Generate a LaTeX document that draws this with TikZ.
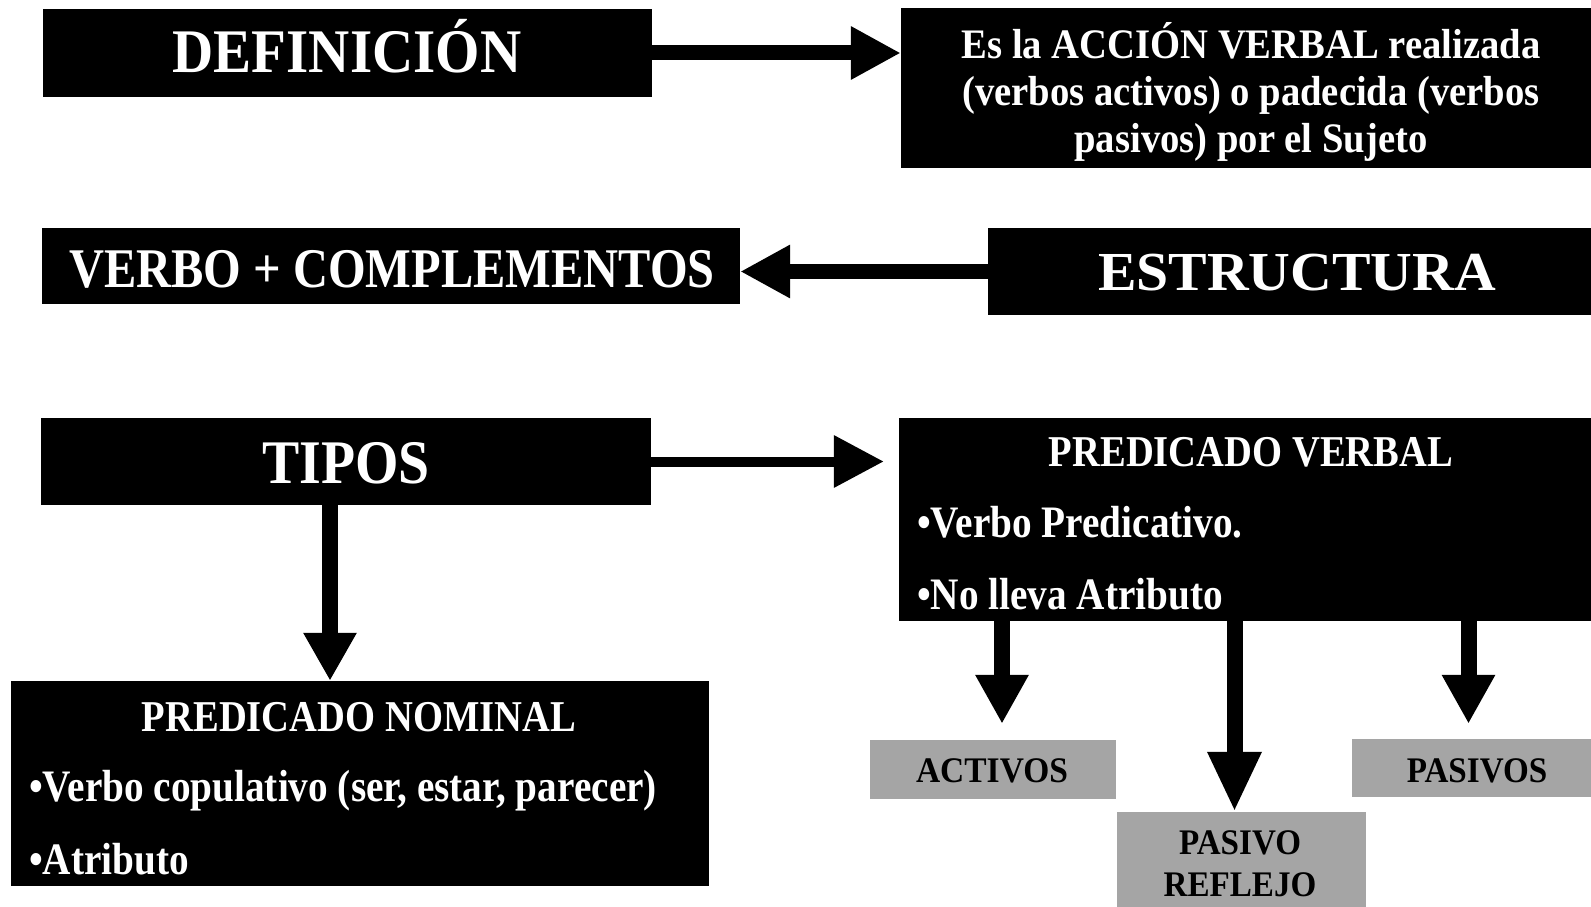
\documentclass[tikz,border=0pt]{standalone}
\usepackage{fontspec}
\setmainfont{Liberation Serif}
\usetikzlibrary{arrows.meta}
\definecolor{boxgray}{RGB}{165,165,165}
\newcommand\tx[3]{\fontsize{#1}{#1}\selectfont\scalebox{#2}[1]{#3}}
\begin{document}
\begin{tikzpicture}[x=1pt,y=-1pt,
  blk/.style={fill=black, draw=none, inner sep=0pt},
  gry/.style={fill=boxgray, draw=none, inner sep=0pt},
  wtxt/.style={text=white, inner sep=0pt, anchor=base, font=\bfseries},
  ktxt/.style={text=black, inner sep=0pt, anchor=base, font=\bfseries},
  lwtxt/.style={wtxt, anchor=base west},
  arr/.style={-{Triangle[length=#1,width=50pt]}},
  arr/.default=50pt]
\useasboundingbox (0,0) rectangle (1591,907);
% boxes
\node[blk, minimum width=609pt, minimum height=87pt] (def) at (347.5,53) {};
\node[blk, minimum width=690pt, minimum height=159pt] (defn) at (1246,88) {};
\node[blk, minimum width=698pt, minimum height=76pt] (verbo) at (391,266) {};
\node[blk, minimum width=603pt, minimum height=87pt] (estr) at (1289.5,271.5) {};
\node[blk, minimum width=610pt, minimum height=87pt] (tipos) at (346,461.5) {};
\node[blk, minimum width=692pt, minimum height=203pt] (pv) at (1245,519.5) {};
\node[blk, minimum width=698pt, minimum height=205pt] (pn) at (360,783.5) {};
\node[gry, minimum width=246pt, minimum height=59pt] (act) at (993,769.5) {};
\node[gry, minimum width=249pt, minimum height=96pt] (pref) at (1241.5,860) {};
\node[gry, minimum width=239pt, minimum height=58pt] (pas) at (1471.5,768) {};
% texts
\node[wtxt] (tdef) at (347,73) {\tx{62}{0.92}{DEFINICIÓN}};
\node[wtxt] (tdefa) at (1251,59) {\tx{42}{0.92}{Es la ACCIÓN VERBAL realizada}};
\node[wtxt] (tdefb) at (1251,105.5) {\tx{42}{0.92}{(verbos activos) o padecida (verbos}};
\node[wtxt] (tdefc) at (1251,152) {\tx{42}{0.92}{pasivos) por el Sujeto}};
\node[wtxt] (tverbo) at (392,287) {\tx{56}{0.865}{VERBO + COMPLEMENTOS}};
\node[wtxt] (testr) at (1297,290) {\tx{55}{1.05}{ESTRUCTURA}};
\node[wtxt] (ttipos) at (346,483) {\tx{62}{0.9}{TIPOS}};
\node[wtxt] (tpv) at (1251,466) {\tx{44}{0.877}{PREDICADO VERBAL}};
\node[lwtxt] (tpva) at (917,537) {\tx{45}{0.872}{•Verbo Predicativo.}};
\node[lwtxt] (tpvb) at (917,609) {\tx{45}{0.872}{•No lleva Atributo}};
\node[wtxt] (tpn) at (359,731) {\tx{44}{0.877}{PREDICADO NOMINAL}};
\node[lwtxt] (tpna) at (29,801) {\tx{45}{0.872}{•Verbo copulativo (ser, estar, parecer)}};
\node[lwtxt] (tpnb) at (29,874) {\tx{45}{0.872}{•Atributo}};
\node[ktxt] (tact) at (992,782) {\tx{36}{0.93}{ACTIVOS}};
\node[ktxt] (tpas) at (1477,782) {\tx{36}{0.92}{PASIVOS}};
\node[ktxt] (tpref1) at (1240,854) {\tx{36}{0.92}{PASIVO}};
\node[ktxt] (tpref2) at (1240,896) {\tx{36}{0.92}{REFLEJO}};
% connectors
\draw[arr, line width=15pt] (def.east) -- (def.east -| defn.west);
\draw[arr, line width=15pt] (estr.west) -- (estr.west -| verbo.east);
\draw[arr, line width=10pt] (tipos.east) -- ([xshift=-15pt]tipos.east -| pv.west);
\draw[arr=48pt, line width=16pt] ([xshift=-16pt]tipos.south) -- ([xshift=-16pt]tipos.south |- pn.north);
\draw[arr=49pt, line width=16pt, shorten >=16pt] ([xshift=9pt]act.north |- pv.south) -- ([xshift=9pt]act.north);
\draw[arr=60pt, line width=16pt] ([xshift=-7pt]pref.north |- pv.south) -- ([xshift=-7pt]pref.north);
\draw[arr=49pt, line width=16pt, shorten >=15pt] ([xshift=-3pt]pas.north |- pv.south) -- ([xshift=-3pt]pas.north);
\end{tikzpicture}
\end{document}
